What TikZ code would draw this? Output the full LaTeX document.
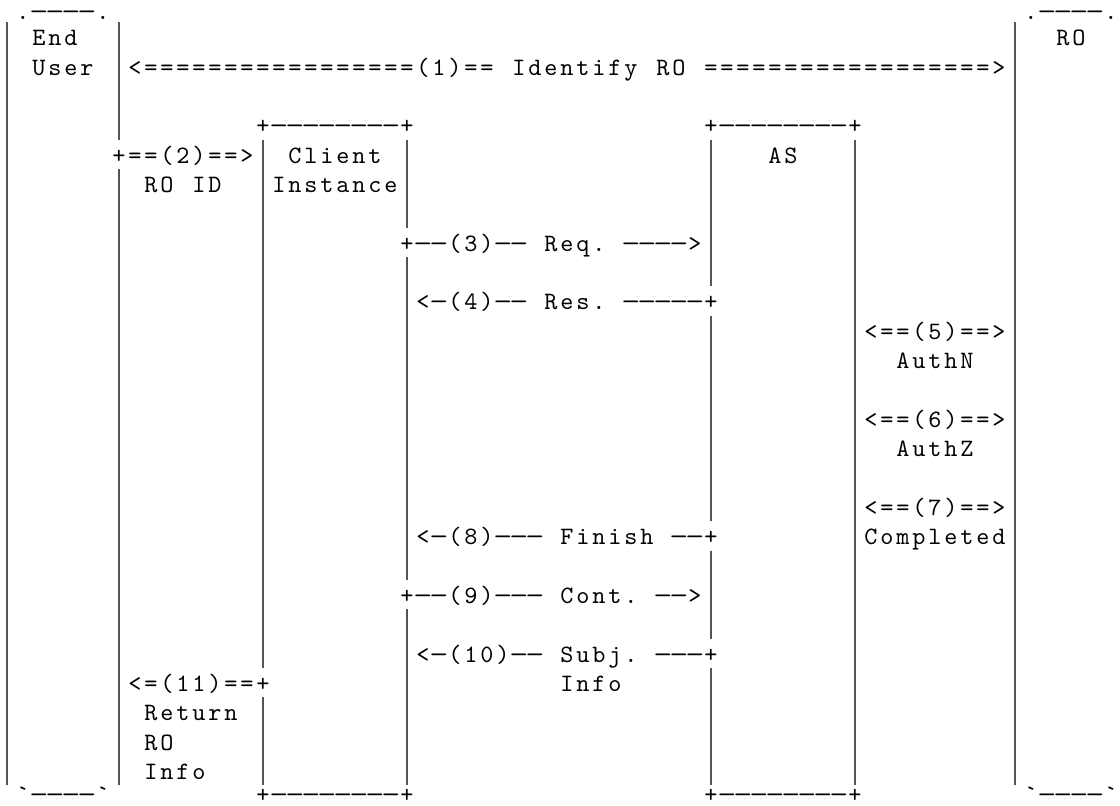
\documentclass[tikz,border=0pt]{standalone}
\usepackage{fontspec}
\newfontfamily\asciifont{lmmono10-regular.otf}
\definecolor{pipegray}{HTML}{555555}
\makeatletter
% one character per grid cell, dashes a little wider
\newcommand\gridtxt[1]{\gridtxt@#1\relax}
\def\gridtxt@#1{\ifx\relax#1\else
  \ifx-#1\makebox[8pt][c]{\scalebox{1.45}[1]{-}}\else\makebox[8pt][c]{#1}\fi
  \expandafter\gridtxt@\fi}
\makeatother
\tikzset{
  ascii/.style = {anchor=base west, inner sep=0pt, outer sep=0pt,
                  xshift=-4pt, yshift=-4.4pt,
                  font=\asciifont\fontsize{12.5}{14}\selectfont},
  pipe/.style  = {draw=pipegray, line width=1.1pt},
}

\begin{document}
\begin{tikzpicture}[x=8pt, y=-14.675pt]
      \useasboundingbox (-0.4375,-0.259) rectangle (69.5625,27.2);
      % vertical bars: column / first row / last row
      \foreach \c/\a/\b in {0/1/26, 7/1/4, 7/6/26, 16/5/22, 16/24/26,
                            25/5/7, 25/9/19, 25/21/26,
                            44/5/9, 44/11/17, 44/19/21, 44/23/26,
                            53/5/26, 63/1/26}
        \draw[pipe] (\c,\a-0.5) -- (\c,\b+0.5);
      % end user and RO
      \node[ascii] (topL) at (1,0.1)  {\gridtxt{.----.}};
      \node[ascii] (topR) at (64,0.1) {\gridtxt{.----.}};
      \node[ascii] (endL) at (2,1)  {\gridtxt{End}};
      \node[ascii] (ro)   at (66,1) {\gridtxt{RO}};
      \node[ascii] (user) at (2,2)  {\gridtxt{User}};
      \node[ascii] (step1) at (8,2)
        {\gridtxt{<=================(1)==~Identify~RO~==================>}};
      % client instance and AS
      \node[ascii] (ciTop) at (16,4) {\gridtxt{+--------+}};
      \node[ascii] (asTop) at (44,4) {\gridtxt{+--------+}};
      \node[ascii] (step2) at (7,5)  {\gridtxt{+==(2)==>}};
      \node[ascii] (client) at (18,5) {\gridtxt{Client}};
      \node[ascii] (as)    at (48,5) {\gridtxt{AS}};
      \node[ascii] (roid)  at (9,6)  {\gridtxt{RO~ID}};
      \node[ascii] (inst)  at (17,6) {\gridtxt{Instance}};
      % requests
      \node[ascii] (step3) at (25,8)  {\gridtxt{+--(3)--~Req.~---->}};
      \node[ascii] (step4) at (26,10) {\gridtxt{<-(4)--~Res.~-----+}};
      \node[ascii] (step5) at (54,11) {\gridtxt{<==(5)==>}};
      \node[ascii] (authn) at (56,12) {\gridtxt{AuthN}};
      \node[ascii] (step6) at (54,14) {\gridtxt{<==(6)==>}};
      \node[ascii] (authz) at (56,15) {\gridtxt{AuthZ}};
      \node[ascii] (step7) at (54,17) {\gridtxt{<==(7)==>}};
      \node[ascii] (step8) at (26,18) {\gridtxt{<-(8)---~Finish~--+}};
      \node[ascii] (done)  at (54,18) {\gridtxt{Completed}};
      \node[ascii] (step9) at (25,20) {\gridtxt{+--(9)---~Cont.~-->}};
      \node[ascii] (step10) at (26,22) {\gridtxt{<-(10)--~Subj.~---+}};
      \node[ascii] (step11) at (8,23) {\gridtxt{<=(11)==+}};
      \node[ascii] (subj)  at (35,23) {\gridtxt{Info}};
      \node[ascii] (ret)   at (9,24)  {\gridtxt{Return}};
      \node[ascii] (retro) at (9,25)  {\gridtxt{RO}};
      \node[ascii] (retinfo) at (9,26) {\gridtxt{Info}};
      % bottoms
      \node[ascii] (botL)  at (1,26.8)  {\gridtxt{`----`}};
      \node[ascii] (ciBot) at (16,26.8) {\gridtxt{+--------+}};
      \node[ascii] (asBot) at (44,26.8) {\gridtxt{+--------+}};
      \node[ascii] (botR)  at (64,26.8) {\gridtxt{`----`}};
    \end{tikzpicture}
\end{document}
